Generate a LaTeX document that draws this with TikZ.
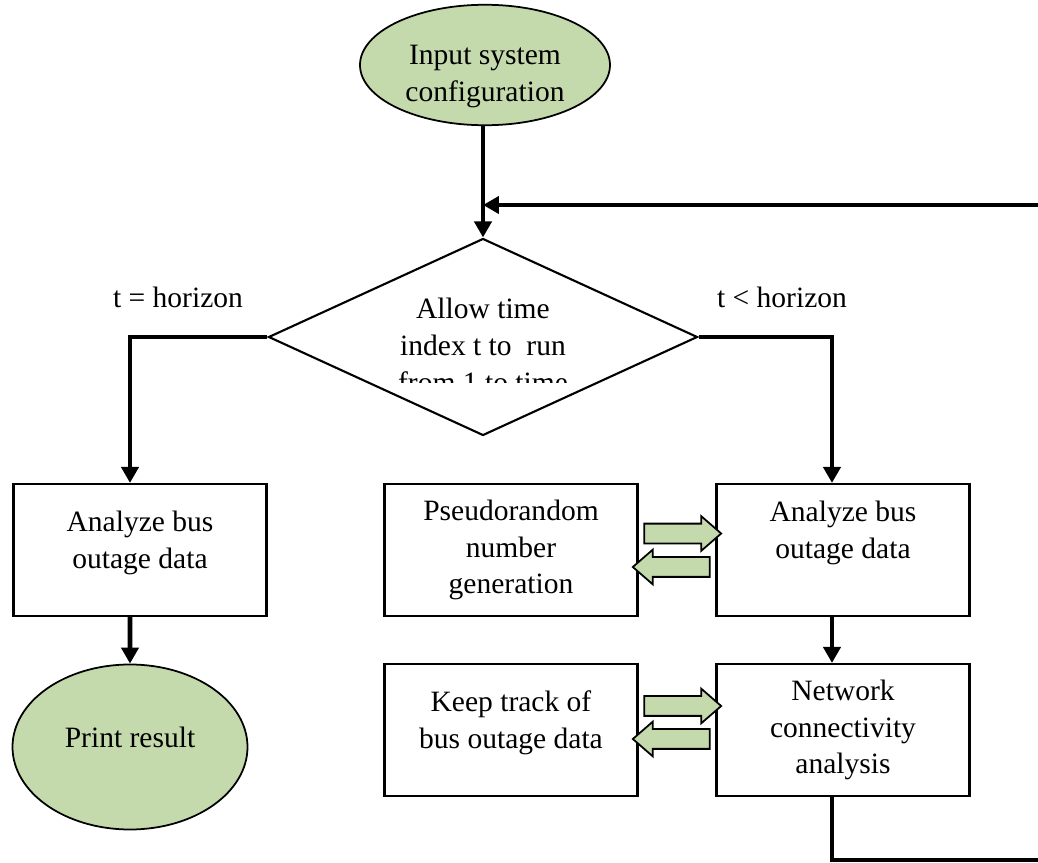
\documentclass[tikz,border=0pt]{standalone}
\usepackage{fontspec}
\setmainfont{Liberation Serif}
\usetikzlibrary{arrows.meta, shapes.geometric, shapes.arrows, calc}
\definecolor{leafgreen}{RGB}{196,218,172}

\begin{document}
\begin{tikzpicture}[
        font=\fontsize{8.4}{10.5}\selectfont,
        terminal/.style={ellipse, draw, line width=0.5pt, fill=leafgreen, align=center, inner sep=0pt},
        procbox/.style={rectangle, draw, line width=0.6pt, minimum width=2.53cm, minimum height=1.32cm, align=center},
        decision/.style={diamond, draw, line width=0.6pt, minimum width=4.29cm, minimum height=1.97cm, inner sep=0pt},
        flow/.style={line width=1.4pt, -{Triangle[length=1.6mm, width=1.7mm]}},
        fatarrow/.style={single arrow, draw, line width=0.5pt, fill=leafgreen, minimum height=0.77cm, inner sep=0.09cm, outer sep=0pt, single arrow head extend=0.075cm, single arrow tip angle=82}
    ]
        \useasboundingbox (0,0) rectangle (10.38,-8.63);
        \node[terminal, minimum width=2.50cm, minimum height=1.14cm] (inp) at (4.85,-0.65) {\mbox{}\\[0.05cm]Input system\\configuration};
        \node[decision] (cond) at (4.83,-3.37) {};
        \begin{scope}
            \clip (3.6,-2.85) rectangle (6.1,-3.82);
            \node[align=center] (condtxt) at (4.83,-3.45) {Allow time\\index t to\ \ run\\from 1 to time};
        \end{scope}
        \node (eqlbl) at (1.78,-2.97) {t = horizon};
        \node (ltlbl) at (7.82,-2.97) {t < horizon};
        \node[procbox] (anl) at (1.40,-5.50) {Analyze bus\\outage data\\[-0.17cm]\mbox{}};
        \node[terminal, minimum width=2.35cm, minimum height=1.65cm] (prt) at (1.30,-7.47) {Print result\\[-0.17cm]\mbox{}};
        \node[procbox] (prng) at (5.11,-5.50) {Pseudorandom\\number\\generation};
        \node[procbox] (anr) at (8.43,-5.50) {Analyze bus\\outage data\\[0.03cm]\mbox{}};
        \node[procbox] (keep) at (5.11,-7.30) {Keep track of\\bus outage data\\[-0.17cm]\mbox{}};
        \node[procbox] (net) at (8.43,-7.30) {Network\\connectivity\\analysis};
        \coordinate (loopin) at (10.38,-2.05);
        \coordinate (loopout) at (10.38,-8.60);
        \draw[flow] (inp.south -| cond.north) -- (cond.north);
        \draw[flow] (loopin) -- (loopin -| cond.north);
        \draw[flow] (cond.west) -| ([xshift=-0.10cm]anl.north);
        \draw[flow] (cond.east) -| ([xshift=-0.11cm]anr.north);
        \draw[flow] ([xshift=-0.10cm]anl.south) -- (prt.north);
        \draw[flow] ([xshift=-0.11cm]anr.south) -- ([xshift=-0.11cm]net.north);
        \draw[line width=1.4pt] ([xshift=-0.11cm]net.south) |- (loopout);
        \node[fatarrow] (fwdtop) at ($(prng.east)!0.5!(anr.west)+(0,0.165)$) {};
        \node[fatarrow, shape border rotate=180] (backtop) at ($(prng.east)!0.5!(anr.west)+(0,-0.17)$) {};
        \node[fatarrow] (fwdlow) at ($(keep.east)!0.5!(net.west)+(0,0.24)$) {};
        \node[fatarrow, shape border rotate=180] (backlow) at ($(keep.east)!0.5!(net.west)+(0,-0.09)$) {};
\end{tikzpicture}
\end{document}
